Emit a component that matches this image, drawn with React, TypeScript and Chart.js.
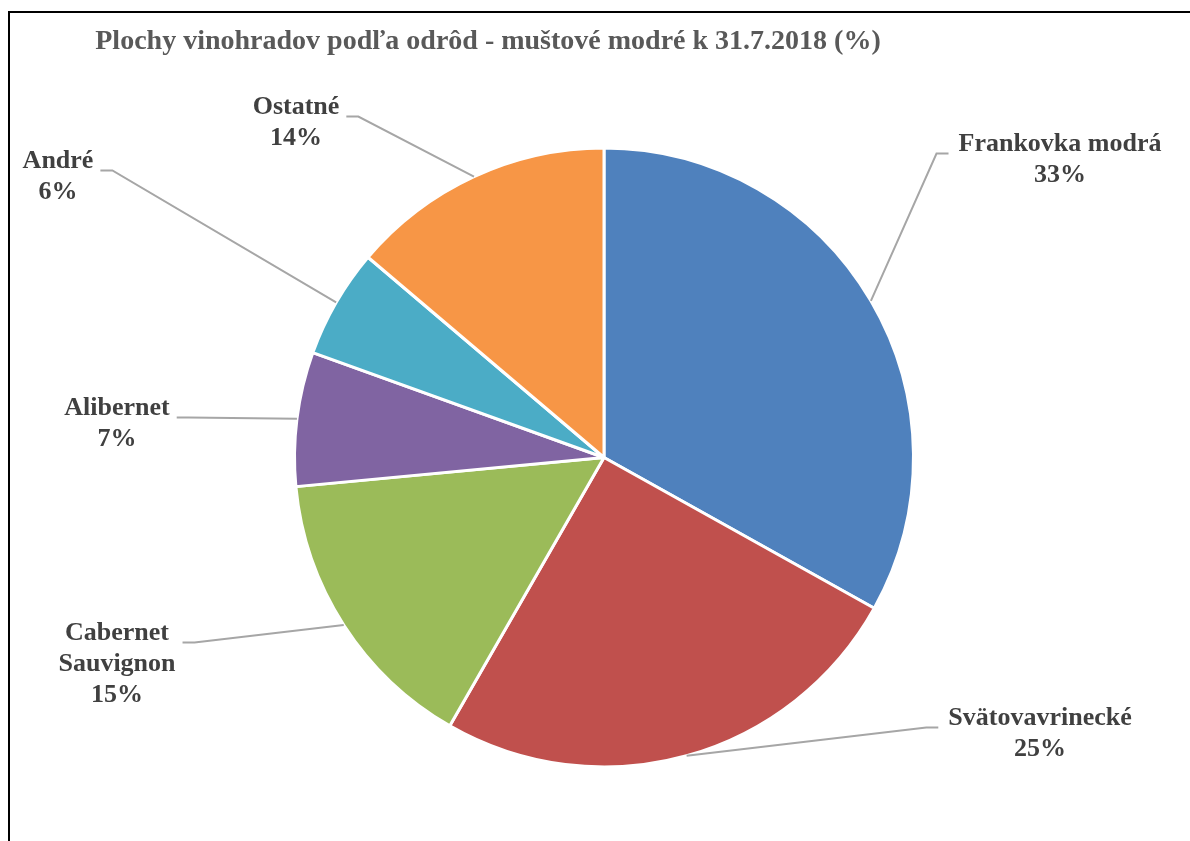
import React, { useEffect, useRef } from "react";
import { Chart, registerables } from "chart.js";

Chart.register(...registerables);

const TITLE = "Plochy vinohradov podľa odrôd - muštové modré k 31.7.2018 (%)";
const CATEGORIES = ["Frankovka modrá", "Svätovavrinecké", "Cabernet Sauvignon", "Alibernet", "André", "Ostatné"];
const VALUES = [33.1, 25.2, 15.2, 7.0, 5.7, 13.8];
const COLORS = ["#4F81BD", "#C0504D", "#9BBB59", "#8064A2", "#4BACC6", "#F79646"];

// label layout (offsets of the label block from the pie centre) and line wrapping
const LABEL_OFFSETS: [number, number][] = [
  [456, -313],
  [436, 261],
  [-487, 176],
  [-487, -49],
  [-546, -296],
  [-308, -350],
];
const LABEL_WRAP = [false, false, true, false, false, false];

const FONT_FAMILY = "'Liberation Serif', 'Times New Roman', serif";

const labelPlugin = {
  id: "outsideLabels",
  afterDatasetsDraw(chart: any) {
    const ctx: CanvasRenderingContext2D = chart.ctx;
    const meta = chart.getDatasetMeta(0);
    const total = VALUES.reduce((a, b) => a + b, 0);
    ctx.save();
    ctx.font = `bold 26px ${FONT_FAMILY}`;
    meta.data.forEach((arc: any, i: number) => {
      const { x, y, startAngle, endAngle, outerRadius } = arc.getProps(
        ["x", "y", "startAngle", "endAngle", "outerRadius"],
        true
      );
      const mid = (startAngle + endAngle) / 2;
      const px = x + Math.cos(mid) * outerRadius;
      const py = y + Math.sin(mid) * outerRadius;
      const [dx, dy] = LABEL_OFFSETS[i];
      const tx = x + dx;
      const ty = y + dy;
      const nameLines = LABEL_WRAP[i] ? CATEGORIES[i].split(" ") : [CATEGORIES[i]];
      const pct = Math.round((VALUES[i] / total) * 100);
      const lines = [...nameLines, `${pct}%`];
      const w = Math.max(...lines.map((l) => ctx.measureText(l).width));
      const right = dx > 0;
      const ly = ty + 9;
      const edge = right ? tx - w / 2 : tx + w / 2;
      const hEnd = right ? edge - 10 : edge + 7;
      const elbow = right ? edge - 22 : edge + 19;

      ctx.strokeStyle = "#A6A6A6";
      ctx.lineWidth = 2;
      ctx.beginPath();
      ctx.moveTo(px, py);
      ctx.lineTo(elbow, ly);
      ctx.lineTo(hEnd, ly);
      ctx.stroke();

      ctx.fillStyle = "#404040";
      ctx.textAlign = "center";
      ctx.textBaseline = "middle";
      lines.forEach((l, k) => {
        ctx.fillText(l, tx, ty + k * 31);
      });
    });

    // title
    ctx.font = `bold 28px ${FONT_FAMILY}`;
    ctx.fillStyle = "#595959";
    ctx.textAlign = "center";
    ctx.textBaseline = "middle";
    ctx.fillText(TITLE, 488, 42);
    ctx.restore();
  },
};

export default function App() {
  const ref = useRef<HTMLCanvasElement>(null);
  useEffect(() => {
    const chart = new Chart(ref.current as HTMLCanvasElement, {
      type: "pie",
      data: {
        labels: CATEGORIES,
        datasets: [
          {
            data: VALUES,
            backgroundColor: COLORS,
            borderColor: "#FFFFFF",
            borderWidth: 3,
          },
        ],
      },
      options: {
        responsive: false,
        animation: false,
        devicePixelRatio: 1,
        layout: { padding: { left: 293, right: 275, top: 146, bottom: 72 } },
        plugins: {
          legend: { display: false },
          tooltip: { enabled: false },
          title: { display: false },
        },
      },
      plugins: [labelPlugin],
    });
    return () => chart.destroy();
  }, []);

  return (
    <div
      style={{
        position: "fixed",
        left: 0,
        top: 0,
        width: 1190,
        height: 841,
        background: "#fff",
        overflow: "hidden",
      }}
    >
      <div
        style={{
          position: "absolute",
          left: 8,
          top: 11,
          width: 1190,
          height: 841,
          borderTop: "2px solid #000",
          borderLeft: "2px solid #000",
        }}
      />
      <canvas
        ref={ref}
        width={1190}
        height={841}
        style={{ position: "absolute", left: 0, top: 0, width: 1190, height: 841 }}
      />
    </div>
  );
}
